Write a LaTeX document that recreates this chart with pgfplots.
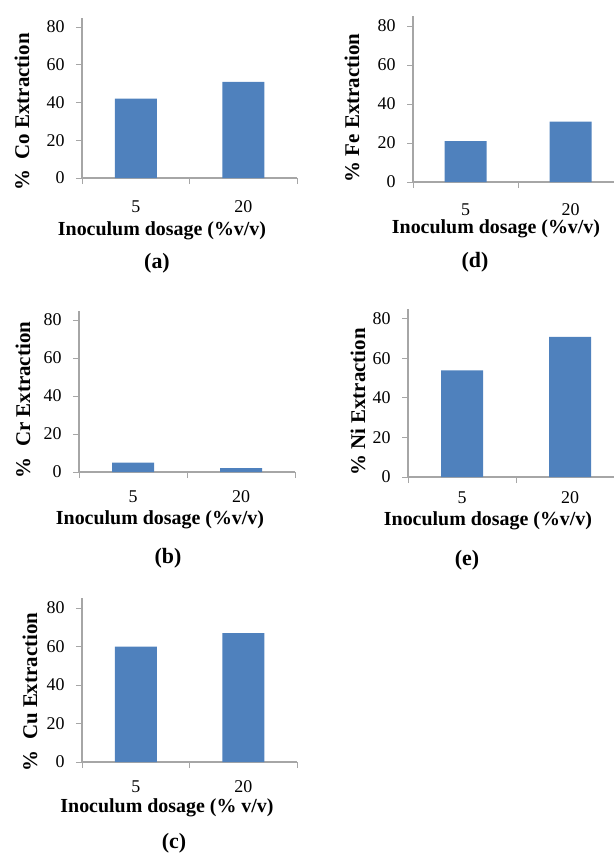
\documentclass[border=0pt]{standalone}
\usepackage{fontspec}
\setmainfont{Liberation Serif}
\usepackage{pgfplots}
\pgfplotsset{compat=1.18}

\definecolor{barblue}{HTML}{4F81BD}
\definecolor{axgray}{HTML}{A6A6A6}

\pgfplotsset{
  panel/.style={
    scale only axis,
    anchor=south west,
    xmin=0, xmax=2, ymin=0, ymax=85,
    axis lines*=left,
    axis line style={axgray, line width=1.1bp},
    ytick={0,20,40,60,80},
    xtick={0,1,2},
    xticklabels={,,},
    extra x ticks={0.5,1.5},
    extra x tick labels={5,20},
    extra x tick style={major tick length=0pt},
    tick style={axgray, line width=1bp},
    tick align=outside,
    major tick length=6bp,
    ticklabel style={font=\fontsize{18}{18}\selectfont, text=black},
    /pgf/number format/assume math mode=true,
    yticklabel style={xshift=-8bp},
    ybar, bar width=42bp,
    clip=false,
  },
  % vertical offset of the category labels below the axis line
  catdrop/.style={xticklabel style={yshift=#1}},
  bars/.style={fill=barblue, draw=none},
}

\tikzset{
  ttl/.style={font=\bfseries\fontsize{20}{20}\selectfont, inner sep=0pt},
  ylab/.style={font=\bfseries\fontsize{21}{21}\selectfont, inner sep=0pt, rotate=90},
  tag/.style={font=\bfseries\fontsize{22}{22}\selectfont, inner sep=0pt},
}

\begin{document}
\begin{tikzpicture}
\path[use as bounding box] (0,0) rectangle (614bp,-854bp);

% (a) cobalt
\begin{axis}[panel, catdrop=-19bp, at={(82bp,-178bp)}, width=215bp, height=160.4bp]
  \addplot[bars] coordinates {(0.5,42) (1.5,51)};
\end{axis}
\node[ylab] at (22bp,-112bp) {\%\ \ Co Extraction};
\node[ttl] at (162bp,-231bp) {Inoculum dosage (\%v/v)};
\node[tag] at (157bp,-263bp) {(a)};

% (d) iron
\begin{axis}[panel, catdrop=-18bp, at={(413bp,-182bp)}, width=210bp, height=165.75bp]
  \addplot[bars] coordinates {(0.5,21) (1.5,31)};
\end{axis}
\node[ylab] at (352bp,-108bp) {\%\ Fe Extraction};
\node[ttl] at (496bp,-229bp) {Inoculum dosage (\%v/v)};
\node[tag] at (475bp,-262bp) {(d)};

% (b) chromium
\begin{axis}[panel, catdrop=-15bp, at={(79bp,-472bp)}, width=216bp, height=161.5bp]
  \addplot[bars] coordinates {(0.5,5) (1.5,2)};
\end{axis}
\node[ylab] at (23bp,-400bp) {\%\ \ Cr Extraction};
\node[ttl] at (160bp,-520bp) {Inoculum dosage (\%v/v)};
\node[tag] at (168bp,-558bp) {(b)};

% (e) nickel
\begin{axis}[panel, catdrop=-11bp, at={(408bp,-477bp)}, width=216bp, height=167.9bp]
  \addplot[bars] coordinates {(0.5,54) (1.5,71)};
\end{axis}
\node[ylab] at (358bp,-402bp) {\%\ Ni Extraction};
\node[ttl] at (488bp,-521bp) {Inoculum dosage (\%v/v)};
\node[tag] at (467bp,-560bp) {(e)};

% (c) copper
\begin{axis}[panel, catdrop=-15bp, at={(82bp,-762bp)}, width=215bp, height=163.6bp]
  \addplot[bars] coordinates {(0.5,60) (1.5,67)};
\end{axis}
\node[ylab] at (30bp,-692bp) {\%\ \ Cu Extraction};
\node[ttl] at (167bp,-808bp) {Inoculum dosage (\% v/v)};
\node[tag] at (174bp,-843bp) {(c)};
\end{tikzpicture}
\end{document}
